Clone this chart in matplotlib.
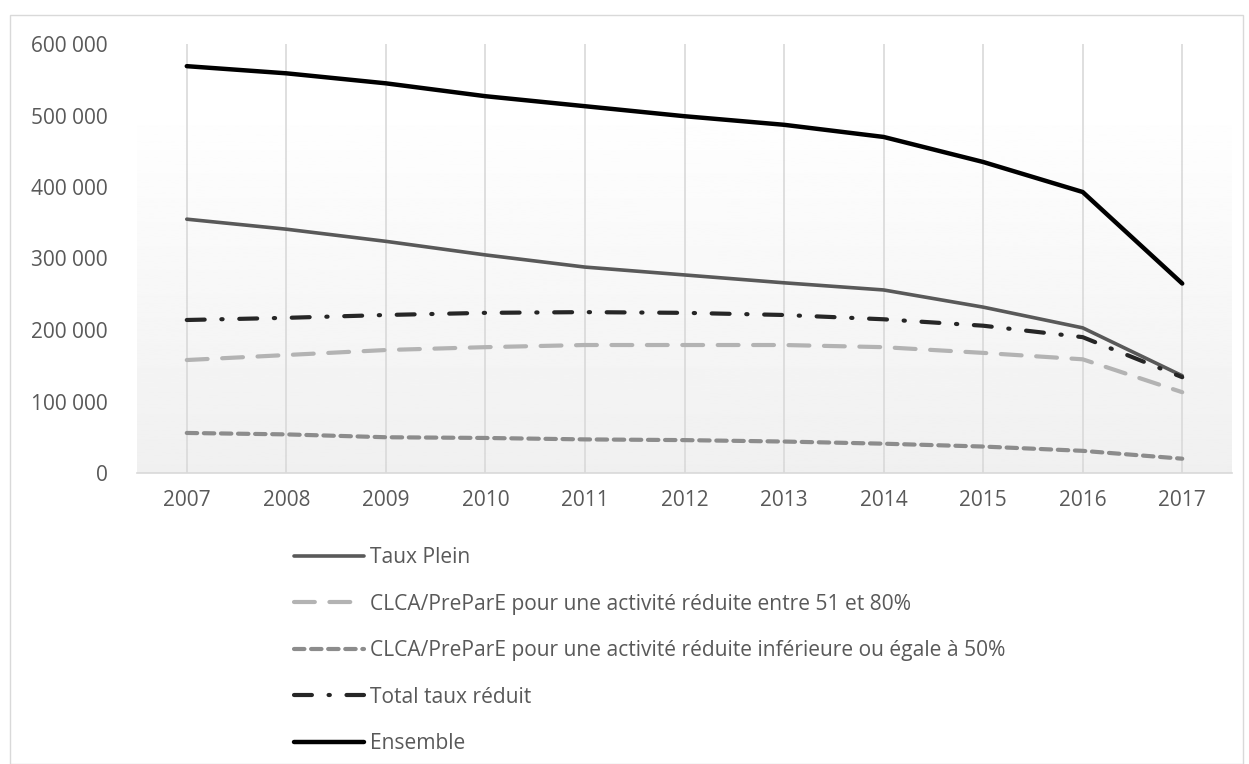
import numpy as np
import matplotlib.pyplot as plt
from matplotlib.patches import Rectangle

years = ["2007", "2008", "2009", "2010", "2011", "2012", "2013", "2014", "2015", "2016", "2017"]
taux_plein = [355000, 341000, 324000, 305000, 288000, 277000, 266000, 256000, 232000, 203000, 136000]
clca_51_80 = [158000, 165000, 172000, 176000, 179000, 179000, 179000, 176000, 168000, 159000, 113000]
clca_50 = [56000, 54000, 50000, 49000, 47000, 46000, 44000, 41000, 37000, 31000, 20000]
total_reduit = [214000, 217000, 221000, 224000, 225000, 224000, 221000, 215000, 206000, 190000, 134000]
ensemble = [569000, 559000, 545000, 527000, 513000, 499000, 487000, 470000, 435000, 393000, 265000]

labels = ["Taux Plein",
          "CLCA/PreParE pour une activité réduite entre 51 et 80%",
          "CLCA/PreParE pour une activité réduite inférieure ou égale à 50%",
          "Total taux réduit",
          "Ensemble"]

W, H = 1249, 764
fig = plt.figure(figsize=(W / 100, H / 100), dpi=100)
fig.patches.append(Rectangle((10 / W, 0), (1243 - 10) / W, (H - 15) / H, transform=fig.transFigure,
                             fill=False, edgecolor="#d9d9d9", lw=1))

ax = fig.add_axes([137 / W, 1 - 473 / H, (1232 - 137) / W, (473 - 44) / H])
x = np.arange(len(years))

# light gradient background
grad = np.linspace(1.0, 0.94, 256).reshape(-1, 1)
ax.imshow(grad, cmap="gray", vmin=0, vmax=1, aspect="auto",
          extent=(-0.5, 10.5, 0, 520000), zorder=0)

ax.plot(x, taux_plein, color="#595959", lw=2.6, solid_capstyle="round", label=labels[0], zorder=3)
ax.plot(x, clca_51_80, color="#b3b3b3", lw=3, dashes=(5, 3.5), dash_capstyle="round", label=labels[1], zorder=3)
ax.plot(x, clca_50, color="#8c8c8c", lw=3, dashes=(2.5, 1.6), dash_capstyle="round", label=labels[2], zorder=3)
ax.plot(x, total_reduit, color="#262626", lw=3, dashes=(4.3, 4, 0.3, 4), dash_capstyle="round", label=labels[3], zorder=3)
ax.plot(x, ensemble, color="black", lw=3.2, solid_capstyle="round", label=labels[4], zorder=4)

ax.set_xlim(-0.5, 10.5)
ax.set_ylim(0, 600000)
ax.set_xticks(x)
ax.set_xticklabels(years)
ax.set_yticks(np.arange(0, 600001, 100000))
ax.set_yticklabels([f"{v:,}".replace(",", " ") for v in range(0, 600001, 100000)])
ax.tick_params(length=0, labelsize=15, labelcolor="#595959")
ax.tick_params(axis="x", pad=12)
ax.tick_params(axis="y", pad=21)
for lab in ax.get_xticklabels() + ax.get_yticklabels():
    lab.set_family(["Open Sans", "DejaVu Sans"])
ax.grid(axis="x", color="#d9d9d9", lw=1.2, zorder=1)
for s in ["top", "right", "left"]:
    ax.spines[s].set_visible(False)
ax.spines["bottom"].set_color("#d9d9d9")
ax.spines["bottom"].set_linewidth(1.2)


def make_legend(size, spacing, top):
    lg = fig.legend(loc="upper left", bbox_to_anchor=(283 / W, 1 - top / H), frameon=False,
                    borderpad=0, handlelength=70 / (size * 100 / 72), handletextpad=0.3,
                    labelspacing=spacing,
                    prop={"family": ["Open Sans", "DejaVu Sans"], "size": size})
    for t in lg.get_texts():
        t.set_color("#595959")
    return lg


# first pass, then nudge spacing / size so rows sit 45 px apart starting at y=557
size, spacing, top = 14.7, 0.8, 543
leg = make_legend(size, spacing, top)
fig.canvas.draw()
r = fig.canvas.get_renderer()
boxes = [t.get_window_extent(r) for t in leg.get_texts()]
centers = [H - (b.y0 + b.y1) / 2 for b in boxes]
row = (centers[-1] - centers[0]) / 4
size = size * 635 / boxes[2].width
spacing = spacing + (45 - row) / (size * 100 / 72)
top = top - (centers[0] - 557)
leg.remove()
leg = make_legend(size, spacing, top)

fig.savefig("out.png", dpi=100)
